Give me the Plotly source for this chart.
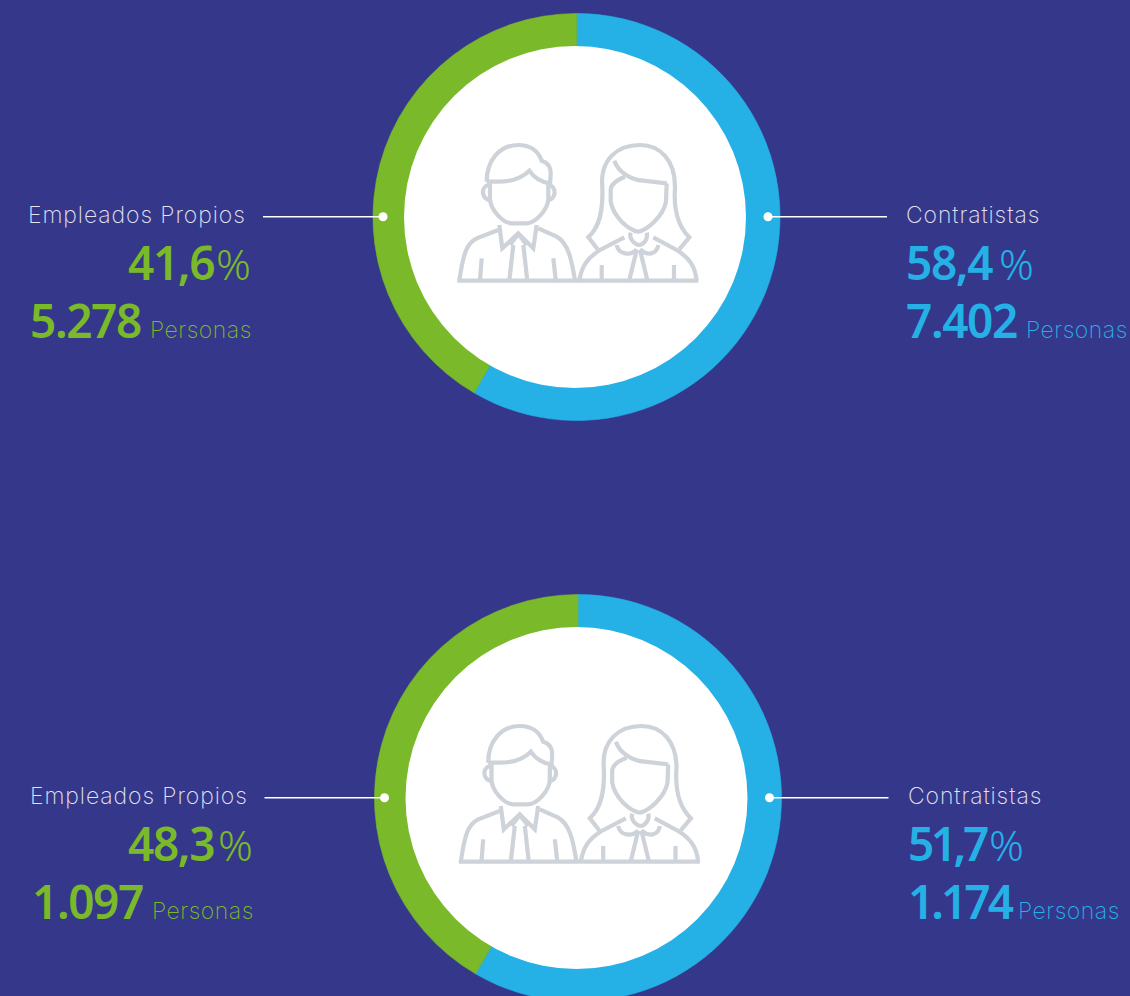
import plotly.graph_objects as go

# ---- data ----
categories = ["Contratistas", "Empleados Propios"]
slice_values_top = [58.4, 41.6]
slice_values_bottom = [58.4, 41.6]   # the reference draws the same split on both rings
colors = ["#25b1e6", "#7ab929"]
pct_top = ["58,4", "41,6"]
pers_top = ["7.402", "5.278"]
pct_bottom = ["51,7", "48,3"]
pers_bottom = ["1.174", "1.097"]
unit = "Personas"

W, H = 1130, 1012
BG = "#35378a"
ICON = "#cdd3d8"
LABEL_FONT = "Inter"
NUM_FONT = "Noto Sans"

MAN_WOMAN = [
    [(140,155),"C",(140,90),(180,45),(235,45),"C",(275,45),(295,65),(305,92),"C",(325,98),(332,110),(332,130),"L",(330,165)],
    [(140,155),"L",(175,155),"C",(215,155),(245,145),(268,122),"C",(280,140),(300,155),(328,160)],
    [(150,160),"L",(150,205),"C",(150,240),(190,280),(215,280),"L",(260,280),"C",(285,280),(325,240),(325,205),"L",(325,160)],
    [(145,165),"C",(122,172),(122,205),(152,212)],
    [(328,165),"C",(350,172),(350,205),(322,212)],
    [(178,285),"L",(187,355),"L",(235,310),"L",(280,355),"L",(290,285)],
    [(210,345),"L",(235,312),"L",(260,345)],
    [(220,345),"L",(208,452)],
    [(250,345),"L",(262,452)],
    [(175,300),"L",(110,325),"C",(80,340),(70,370),(58,452)],
    [(295,295),"L",(350,320),"C",(385,340),(395,390),(405,452)],
    [(52,452),"L",(775,452)],
    [(125,385),"L",(120,450)],
    [(340,385),"L",(347,450)],
    [(473,358),"L",(445,322),"C",(480,290),(490,240),(487,170),"C",(480,90),(530,45),(600,45),"C",(660,45),(705,90),(705,170),"C",(700,240),(715,290),(748,322),"L",(718,358)],
    [(523,92),"C",(535,125),(570,150),(610,152),"L",(680,160)],
    [(680,160),"L",(678,215),"C",(670,260),(620,300),(595,305),"C",(565,300),(520,260),(512,215),"L",(512,180),"C",(512,165),(530,150),(555,140)],
    [(553,322),"L",(480,360),"C",(440,385),(425,410),(418,452)],
    [(640,322),"L",(710,360),"C",(750,385),(765,410),(770,452)],
    [(572,308),"C",(565,330),(590,345),(597,345),"C",(612,345),(625,325),(620,308)],
    [(530,345),"C",(535,375),(575,378),(590,358)],
    [(600,358),"C",(620,378),(650,375),(655,345)],
    [(590,360),"L",(568,450)],
    [(600,360),"L",(622,450)],
    [(485,405),"L",(485,450)],
    [(702,405),"L",(702,450)],
]

def icon_shapes(dx, dy):
    out = []
    for seg in MAN_WOMAN:
        p = ""
        first = True
        for it in seg:
            if isinstance(it, str):
                p += " " + it
            else:
                x = it[0] / 3 + 440 + dx
                y = it[1] / 3 + 130 + dy
                p += (f"M{x:.1f},{y:.1f}" if first else f" {x:.1f},{y:.1f}")
                first = False
        out.append(dict(type="path", path=p, xref="x", yref="y", layer="above",
                        line=dict(color=ICON, width=4.2)))
    return out

def ring(values, cx, cy, r=203.5):
    return go.Pie(values=values, labels=categories, marker=dict(colors=colors, line=dict(width=0.6, color=colors)),
                  hole=0.78, sort=False, direction="clockwise", rotation=0, textinfo="none",
                  showlegend=False, hoverinfo="label+percent",
                  domain=dict(x=[(cx - r) / W, (cx + r) / W], y=[1 - (cy + r) / H, 1 - (cy - r) / H]))

fig = go.Figure()
fig.add_trace(ring(slice_values_top, 576.5, 217))
fig.add_trace(ring(slice_values_bottom, 578, 798))

def txt(x, y, s, size, color, anchor="left", font=LABEL_FONT, weight=300, spacing=None):
    if spacing is not None:
        s = f'<span style="letter-spacing:{spacing}px">{s}</span>'
    fig.add_annotation(x=x, y=y, text=s, showarrow=False, xref="x", yref="y",
                       xanchor=anchor, yanchor="bottom", borderpad=0, borderwidth=0,
                       font=dict(family=font, size=size, color=color, weight=weight))

shapes = []
def group(dx, dy, pct, pers, xs):
    for x0, x1, xd in ((263, 383, 383), (768, 887, 768)):
        shapes.append(dict(type="line", x0=x0 + dx, x1=x1 + dx, y0=216.7 + dy, y1=216.7 + dy, xref="x", yref="y",
                           line=dict(color="white", width=1.5), layer="above"))
    # white centre, drawn above the ring (it sits slightly left of the ring's centre)
    shapes.append(dict(type="circle", x0=404 + dx, x1=746 + dx, y0=46 + dy, y1=388 + dy, xref="x", yref="y",
                       fillcolor="white", line=dict(width=0), layer="above"))
    for xd in (383, 768):
        shapes.append(dict(type="circle", x0=xd + dx - 4.5, x1=xd + dx + 4.5, y0=216.7 + dy - 4.5, y1=216.7 + dy + 4.5,
                           xref="x", yref="y", fillcolor="white", line=dict(width=0), layer="above"))
    shapes.extend(icon_shapes(dx, dy))
    green, blue = colors[1], colors[0]
    lab = "#e2e2f2"
    y1, y2, y3 = 229 + dy, 293 + dy, 351 + dy
    lsp, nsp = 0.9, -1.4
    txt(xs["lab_l"], y1, categories[1], 23, lab, weight=200, spacing=lsp)
    txt(xs["pct_l"], y2, pct[1], 46, green, "right", NUM_FONT, 600, nsp)
    txt(xs["psym_l"], y2, "%", 43, green, "left", NUM_FONT, 300)
    txt(xs["num_l"], y3, pers[1], 46, green, "right", NUM_FONT, 600, nsp)
    txt(xs["per_l"], y3 - 7, unit, 23, green, weight=200, spacing=0.5)
    txt(xs["lab_r"], y1, categories[0], 23, lab, weight=200, spacing=lsp)
    txt(xs["lab_r"], y2, pct[0], 46, blue, "left", NUM_FONT, 600, xs["sp_pct_r"])
    txt(xs["psym_r"], y2, "%", 43, blue, "left", NUM_FONT, 300)
    txt(xs["lab_r"], y3, pers[0], 46, blue, "left", NUM_FONT, 600, xs["sp_num_r"])
    txt(xs["per_r"], y3 - 7, unit, 23, blue, weight=200, spacing=0.5)

group(0, 0, pct_top, pers_top,
      dict(lab_l=28, pct_l=214, psym_l=215.5, num_l=141, per_l=150, lab_r=906, psym_r=999, per_r=1026,
           sp_pct_r=-1.4, sp_num_r=-1.4))
group(1.5, 581, pct_bottom, pers_bottom,
      dict(lab_l=30, pct_l=214, psym_l=217.5, num_l=143, per_l=152, lab_r=908, psym_r=989, per_r=1018,
           sp_pct_r=-3.5, sp_num_r=-3))

fig.update_layout(
    width=W, height=H, margin=dict(l=0, r=0, t=0, b=0, pad=0), paper_bgcolor=BG, plot_bgcolor="rgba(0,0,0,0)",
    shapes=shapes,
    xaxis=dict(range=[0, W], visible=False, fixedrange=True),
    yaxis=dict(range=[H, 0], visible=False, fixedrange=True),
)
fig.write_html("out.html", config=dict(displayModeBar=False),
               post_script="document.documentElement.style.overflow='hidden';document.body.style.overflow='hidden';document.body.style.margin='0';document.body.style.background='#35378a';")
